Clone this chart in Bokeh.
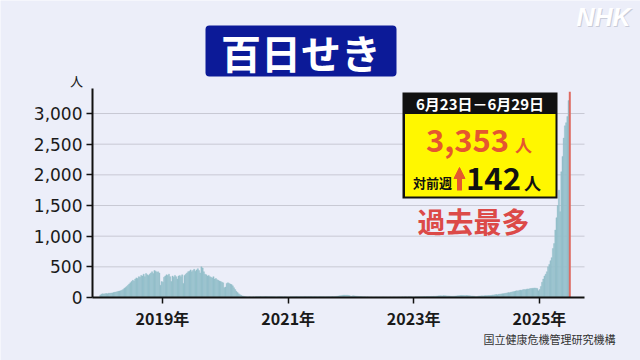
import pandas as pd
from bokeh.plotting import figure
from bokeh.models import (Range1d, FixedTicker, NumeralTickFormatter, CustomJSTickFormatter,
                          Label, BoxAnnotation, Arrow, NormalHead, ColumnDataSource)
from bokeh.embed import file_html
from bokeh.resources import INLINE

# ---------------- data (weekly pertussis reports, from 2018 week 1) ----------------
w2018 = [40, 55, 60, 58, 62, 65, 60, 70, 68, 72,
         75, 80, 85, 90, 95, 100, 105, 110, 120, 130,
         150, 165, 180, 200, 220, 240, 260, 280, 270, 300,
         320, 310, 340, 330, 360, 350, 380, 340, 390, 370,
         360, 380, 400, 420, 390, 440, 430, 410, 420, 400,
         200, 260]
w2019 = [250, 330, 350, 370, 360, 380, 340, 260, 350, 330,
         360, 340, 300, 350, 360, 340, 370, 230, 360, 380,
         400, 420, 430, 450, 420, 440, 460, 430, 450, 470,
         440, 400, 500, 480, 420, 380, 370, 350, 360, 340,
         330, 320, 340, 300, 310, 290, 280, 270, 260, 250,
         240, 160]
w2020 = [170, 230, 240, 230, 220, 210, 190, 160, 130, 100,
         80, 60, 45, 35, 25, 20, 15, 12, 10, 10,
         12, 10, 9, 11, 10, 12, 13, 12, 14, 15,
         12, 13, 14, 15, 14, 13, 12, 14, 13, 12,
         11, 12, 10, 11, 12, 13, 12, 11, 10, 12,
         11, 10, 8]
w2021 = [10, 12, 11, 13, 12, 14, 13, 12, 11, 13,
         14, 12, 13, 15, 14, 12, 13, 14, 15, 13,
         12, 14, 13, 12, 11, 13, 14, 12, 13, 12,
         11, 12, 13, 14, 12, 13, 15, 14, 16, 18,
         20, 24, 28, 30, 34, 36, 38, 35, 37, 34,
         30, 22]
w2022 = [20, 28, 26, 22, 20, 18, 16, 15, 14, 12,
         12, 11, 10, 11, 10, 9, 10, 9, 8, 9,
         10, 9, 8, 9, 8, 9, 10, 8, 9, 8,
         7, 8, 9, 8, 9, 10, 9, 8, 9, 10,
         9, 10, 11, 10, 12, 11, 10, 12, 11, 12,
         10, 8]
w2023 = [8, 12, 11, 12, 13, 12, 14, 13, 15, 14,
         16, 15, 17, 16, 18, 17, 20, 18, 22, 24,
         26, 27, 28, 26, 30, 28, 27, 25, 26, 24,
         22, 20, 21, 22, 24, 26, 28, 30, 32, 33,
         31, 32, 30, 33, 31, 29, 27, 25, 24, 22,
         20, 14]
w2024 = [15, 22, 24, 25, 27, 26, 28, 30, 29, 31,
         33, 32, 35, 40, 42, 45, 48, 44, 52, 55,
         58, 60, 62, 66, 70, 75, 80, 78, 85, 90,
         95, 98, 105, 110, 108, 115, 120, 118, 125, 130,
         128, 135, 140, 138, 145, 148, 150, 152, 155, 150,
         148, 110]
w2025 = [130, 180, 250, 300, 350, 380, 420, 500, 540, 600,
         650, 800, 880, 1100, 1300, 1500, 1750, 1400, 2050, 2300,
         2600, 2800, 2850, 2950, 3211, 3353]

first_week = "2018-01-01"
year_ticks = ["2019-01-01", "2021-01-01", "2023-01-01", "2025-01-01"]
y_ticks = [0, 500, 1000, 1500, 2000, 2500, 3000]

title_text = "百日せき"
period_text = "6月23日－6月29日"
latest_text = "3,353"
diff_text = "142"
record_text = "過去最多"
source_text = "国立健康危機管理研究機構"
unit_text = "人"

# ---------------- build ----------------
weekly = w2018 + w2019 + w2020 + w2021 + w2022 + w2023 + w2024 + w2025
starts = pd.date_range(first_week, periods=len(weekly), freq="7D")
centers = starts + pd.Timedelta(hours=84)
week_ms = 7 * 24 * 3600 * 1000

BG = "#eceef9"
BAR = "#94bfcb"
RED_LINE = "#de6a62"
ORANGE = "#e5572f"
RED_TXT = "#dc4a48"
JP = "Noto Sans CJK JP"
W, H = 640, 360

# axis box in canvas pixels and the values at its edges
FL, FR, FT, FB = 92, 584, 88, 297
x_lo = pd.Timestamp("2017-11-20").value / 1e6
x_hi = pd.Timestamp("2025-09-20").value / 1e6
y_lo, y_hi = 0, 3408
mspx = (x_hi - x_lo) / (FR - FL)
upx = (y_hi - y_lo) / (FB - FT)

p = figure(width=W, height=H, x_axis_type="datetime",
           x_range=Range1d(x_lo - FL * mspx, x_hi + (W - FR) * mspx),
           y_range=Range1d(y_lo - (H - FB) * upx, y_hi + FT * upx),
           min_border=0,
           background_fill_color=BG, border_fill_color=BG,
           outline_line_color=None, toolbar_location=None,
           output_backend="svg")
p.title.visible = False

# horizontal grid lines, only across the axis box
p.segment(x0=[x_lo] * (len(y_ticks) - 1), y0=y_ticks[1:],
          x1=[x_hi] * (len(y_ticks) - 1), y1=y_ticks[1:],
          line_color="#c8c9d4", line_width=1)
p.xgrid.visible = False
p.ygrid.visible = False

src = ColumnDataSource(dict(x=centers[:-1], top=weekly[:-1]))
p.vbar(x="x", top="top", width=week_ms, source=src,
       fill_color=BAR, line_color=BAR, line_width=0.4)
p.segment(x0=[centers[-1]], y0=[0], x1=[centers[-1]], y1=[weekly[-1]],
          line_color=RED_LINE, line_width=2)

# axes (drawn at fixed data positions so they take no side space)
yax = p.yaxis[0]
yax.fixed_location = x_lo
yax.bounds = (y_lo, y_hi)
yax.ticker = FixedTicker(ticks=y_ticks)
yax.formatter = NumeralTickFormatter(format="0,0")
yax.major_label_text_font = "DejaVu Sans"
yax.major_label_text_font_size = "17px"
yax.major_label_text_color = "#1a1a1a"
yax.major_tick_out = 6
yax.major_tick_in = 0
yax.major_label_standoff = 4
yax.minor_tick_line_color = None
yax.axis_line_width = 2
yax.axis_line_color = "#111111"
yax.major_tick_line_color = "#111111"
yax.major_tick_line_width = 1.5

tick_ms = [pd.Timestamp(t).value // 10**6 for t in year_ticks]
xax = p.xaxis[0]
xax.fixed_location = 0
xax.bounds = (x_lo, x_hi)
xax.ticker = FixedTicker(ticks=tick_ms)
xax.formatter = CustomJSTickFormatter(code="return new Date(tick).getUTCFullYear() + '年'")
xax.major_label_text_font = JP
xax.major_label_text_font_style = "bold"
xax.major_label_text_font_size = "16px"
xax.major_label_text_color = "#1a1a1a"
xax.major_tick_out = 6
xax.major_tick_in = 0
xax.major_label_standoff = 2
xax.minor_tick_line_color = None
xax.axis_line_width = 2
xax.axis_line_color = "#111111"
xax.major_tick_line_color = "#111111"
xax.major_tick_line_width = 1.5


def box(l, t, r, b, color, **kw):
    p.add_layout(BoxAnnotation(left=l, right=r, top=H - t, bottom=H - b,
                               left_units="screen", right_units="screen",
                               top_units="screen", bottom_units="screen",
                               fill_color=color, fill_alpha=1.0, line_color=None, **kw))


def lab(text, cx, cy, size, color, font=JP, style="bold", align="center"):
    p.add_layout(Label(x=cx, y=H - cy, x_units="screen", y_units="screen",
                       text=text, text_align=align, text_baseline="middle",
                       text_font=font, text_font_size=f"{size}px",
                       text_font_style=style, text_color=color))


# title block
box(205, 25, 396, 76, "#0c1a98", border_radius=4)
lab(title_text, 300.5, 51, 40, "white")

# NHK mark
lab("NHK", 604, 17, 25, "#c9ccd8", font="Liberation Sans", style="bold italic")
lab("NHK", 603, 16, 25, "#ffffff", font="Liberation Sans", style="bold italic")

# unit label
lab(unit_text, 76, 80, 13, "#1a1a1a", style="normal")

# info box
box(402, 92, 557, 198, "#111111")
box(404.5, 113.5, 555, 196, "#fff700")
lab(period_text, 479.5, 103, 15, "white")
lab(latest_text, 467, 140, 31, ORANGE)
lab(unit_text, 523, 144, 17, ORANGE)
lab("対前週", 432, 182, 13, "#111111")
p.add_layout(Arrow(end=NormalHead(size=11, fill_color=ORANGE, line_color=ORANGE),
                   x_start=459, y_start=H - 190, x_end=459, y_end=H - 167,
                   start_units="screen", end_units="screen",
                   line_color=ORANGE, line_width=5))
lab(diff_text, 493, 178, 31, "#111111")
lab(unit_text, 532, 182, 17, "#111111")

lab(record_text, 473, 220, 28, RED_TXT)

# source
lab(source_text, 549, 338, 11, "#333333", style="normal")

open("out.html", "w").write(file_html(p, INLINE))
